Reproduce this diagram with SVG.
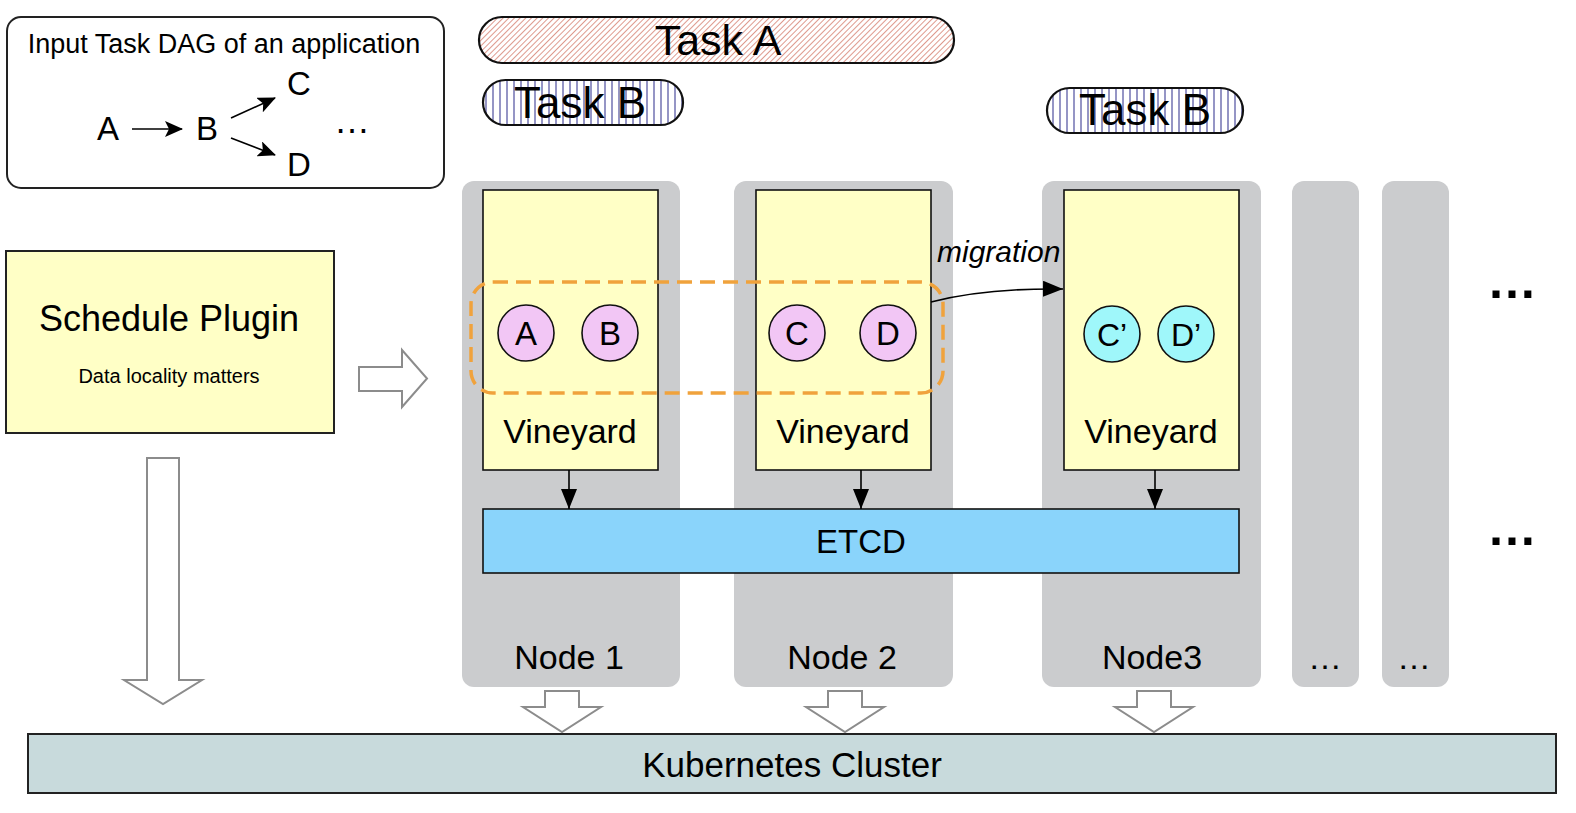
<svg xmlns="http://www.w3.org/2000/svg" width="1576" height="813" viewBox="0 0 1576 813">
  <style>
    text { font-family: "Liberation Sans", Arial, Helvetica, sans-serif; fill: #000; }
    .node { fill: #cbccce; }
    .vy { fill: #ffffc6; stroke: #111; stroke-width: 1.6; }
    .circ { fill: #f2c6f5; stroke: #111; stroke-width: 1.6; }
    .circ2 { fill: #9ff7fa; stroke: #111; stroke-width: 1.6; }
    .hollow { fill: #fff; stroke: #8c8c8c; stroke-width: 2; }
    .pill { stroke: #111; stroke-width: 2.2; }
    .lbl34 { font-size: 34px; text-anchor: middle; }
    .ctr { text-anchor: middle; }
    .ln { stroke: #000; stroke-width: 1.6; fill: none; }
  </style>
  <defs>
    <pattern id="hatchA" patternUnits="userSpaceOnUse" width="4" height="4" patternTransform="rotate(45)">
      <rect width="4" height="4" fill="#fff"/>
      <line x1="0" y1="0" x2="0" y2="4" stroke="#c4452f" stroke-width="1.1"/>
    </pattern>
    <pattern id="hatchB" patternUnits="userSpaceOnUse" width="7" height="7">
      <rect width="7" height="7" fill="#fff"/>
      <line x1="3" y1="0" x2="3" y2="7" stroke="#2b2b8c" stroke-width="1"/>
    </pattern>
    <marker id="tri" viewBox="0 0 20 16" markerWidth="20" markerHeight="16" refX="20" refY="8" orient="auto" markerUnits="userSpaceOnUse">
      <path d="M0,0 L20,8 L0,16 Z" fill="#000"/>
    </marker>
    <marker id="barb" viewBox="0 0 18 16" markerWidth="18" markerHeight="16" refX="17" refY="8" orient="auto" markerUnits="userSpaceOnUse">
      <path d="M0,0 L18,8 L0,16 L4,8 Z" fill="#000"/>
    </marker>
  </defs>

  <!-- DAG box -->
  <g id="dag">
    <rect x="7" y="17" width="437" height="171" rx="14" fill="#fff" stroke="#222" stroke-width="2"/>
    <text x="224" y="53" class="ctr" font-size="27">Input Task DAG of an application</text>
    <text x="108" y="140" class="ctr" font-size="33">A</text>
    <text x="207" y="140" class="ctr" font-size="33">B</text>
    <text x="299" y="95" class="ctr" font-size="33">C</text>
    <text x="299" y="176" class="ctr" font-size="33">D</text>
    <text x="352" y="133" class="ctr" font-size="36">…</text>
    <line x1="132" y1="129" x2="182" y2="129" class="ln" stroke-width="2" marker-end="url(#barb)"/>
    <line x1="231" y1="118" x2="275" y2="98" class="ln" stroke-width="2" marker-end="url(#barb)"/>
    <line x1="231" y1="138" x2="275" y2="155" class="ln" stroke-width="2" marker-end="url(#barb)"/>
  </g>

  <!-- Task pills -->
  <g id="taskA">
    <rect x="479" y="17" width="475" height="46" rx="23" fill="url(#hatchA)" class="pill"/>
    <text x="718" y="55" class="ctr" font-size="43">Task A</text>
  </g>
  <g id="taskB1">
    <rect x="483" y="80" width="200" height="45" rx="22.5" fill="url(#hatchB)" class="pill"/>
    <text x="580" y="118" class="ctr" font-size="44">Task B</text>
  </g>
  <g id="taskB2">
    <rect x="1047" y="88" width="196" height="45" rx="22.5" fill="url(#hatchB)" class="pill"/>
    <text x="1145" y="125" class="ctr" font-size="44">Task B</text>
  </g>

  <!-- Schedule plugin -->
  <g id="schedule">
    <rect x="6" y="251" width="328" height="182" fill="#ffffc6" stroke="#222" stroke-width="2"/>
    <text x="169" y="331" class="ctr" font-size="36">Schedule Plugin</text>
    <text x="169" y="383" class="ctr" font-size="20">Data locality matters</text>
  </g>

  <!-- Node columns -->
  <g id="node1">
    <rect x="462" y="181" width="218" height="506" rx="12" class="node"/>
    <text x="569" y="669" class="lbl34">Node 1</text>
  </g>
  <g id="node2">
    <rect x="734" y="181" width="219" height="506" rx="12" class="node"/>
    <text x="842" y="669" class="lbl34">Node 2</text>
  </g>
  <g id="node3">
    <rect x="1042" y="181" width="219" height="506" rx="12" class="node"/>
    <text x="1152" y="669" class="lbl34">Node3</text>
  </g>
  <g id="node4">
    <rect x="1292" y="181" width="67" height="506" rx="12" class="node"/>
    <text x="1325" y="669" class="ctr" font-size="34">…</text>
  </g>
  <g id="node5">
    <rect x="1382" y="181" width="67" height="506" rx="12" class="node"/>
    <text x="1414" y="669" class="ctr" font-size="34">…</text>
  </g>
  <g id="more">
    <text x="1512" y="298" class="ctr" font-size="50" font-weight="bold">…</text>
    <text x="1512" y="545" class="ctr" font-size="50" font-weight="bold">…</text>
  </g>

  <!-- migration label -->
  <text x="937" y="262" font-size="30" font-style="italic">migration</text>

  <!-- Vineyards -->
  <g id="vineyard1">
    <rect x="483" y="190" width="175" height="280" class="vy"/>
    <text x="570" y="443" class="lbl34">Vineyard</text>
  </g>
  <g id="vineyard2">
    <rect x="756" y="190" width="175" height="280" class="vy"/>
    <text x="843" y="443" class="lbl34">Vineyard</text>
  </g>
  <g id="vineyard3">
    <rect x="1064" y="190" width="175" height="280" class="vy"/>
    <text x="1151" y="443" class="lbl34">Vineyard</text>
  </g>

  <!-- Tasks circles -->
  <g id="cA"><circle cx="526" cy="333" r="28" class="circ"/><text x="526" y="345" class="ctr" font-size="33">A</text></g>
  <g id="cB"><circle cx="610" cy="333" r="28" class="circ"/><text x="610" y="345" class="ctr" font-size="33">B</text></g>
  <g id="cC"><circle cx="797" cy="333" r="28" class="circ"/><text x="797" y="345" class="ctr" font-size="33">C</text></g>
  <g id="cD"><circle cx="888" cy="333" r="28" class="circ"/><text x="888" y="345" class="ctr" font-size="33">D</text></g>
  <g id="cC2"><circle cx="1112" cy="334" r="28" class="circ2"/><text x="1112" y="346" class="ctr" font-size="32">C’</text></g>
  <g id="cD2"><circle cx="1186" cy="334" r="28" class="circ2"/><text x="1186" y="346" class="ctr" font-size="32">D’</text></g>

  <!-- ETCD -->
  <g id="etcd">
    <rect x="483" y="509" width="756" height="64" fill="#8ad4fb" stroke="#111" stroke-width="1.6"/>
    <text x="861" y="553" class="ctr" font-size="33">ETCD</text>
  </g>

  <!-- Kubernetes -->
  <g id="k8s">
    <rect x="28" y="734" width="1528" height="59" fill="#c8dadc" stroke="#222" stroke-width="2"/>
    <text x="792" y="777" class="ctr" font-size="35">Kubernetes Cluster</text>
  </g>

  <!-- locality group -->
  <g id="group">
    <rect x="471" y="282" width="472" height="111" rx="22" fill="none" stroke="#f0a23c" stroke-width="3.5" stroke-dasharray="15 8"/>
  </g>

  <!-- Connectors -->
  <g id="connectors">
    <line x1="569" y1="470" x2="569" y2="509" class="ln" marker-end="url(#tri)"/>
    <line x1="861" y1="470" x2="861" y2="509" class="ln" marker-end="url(#tri)"/>
    <line x1="1155" y1="470" x2="1155" y2="509" class="ln" marker-end="url(#tri)"/>
    <path d="M931,302 Q985,288 1063,289" class="ln" marker-end="url(#tri)"/>
    <path d="M359,367 L402,367 L402,350 L427,378.5 L402,407 L402,391 L359,391 Z" class="hollow"/>
    <path d="M147,458 L179,458 L179,680 L202,680 L163,704 L124,680 L147,680 Z" class="hollow"/>
    <path d="M545,691 L579,691 L579,707 L601,707 L562,732 L523,707 L545,707 Z" class="hollow"/>
    <path d="M828,691 L862,691 L862,707 L884,707 L845,732 L806,707 L828,707 Z" class="hollow"/>
    <path d="M1137,691 L1171,691 L1171,707 L1193,707 L1154,732 L1115,707 L1137,707 Z" class="hollow"/>
  </g>
</svg>
